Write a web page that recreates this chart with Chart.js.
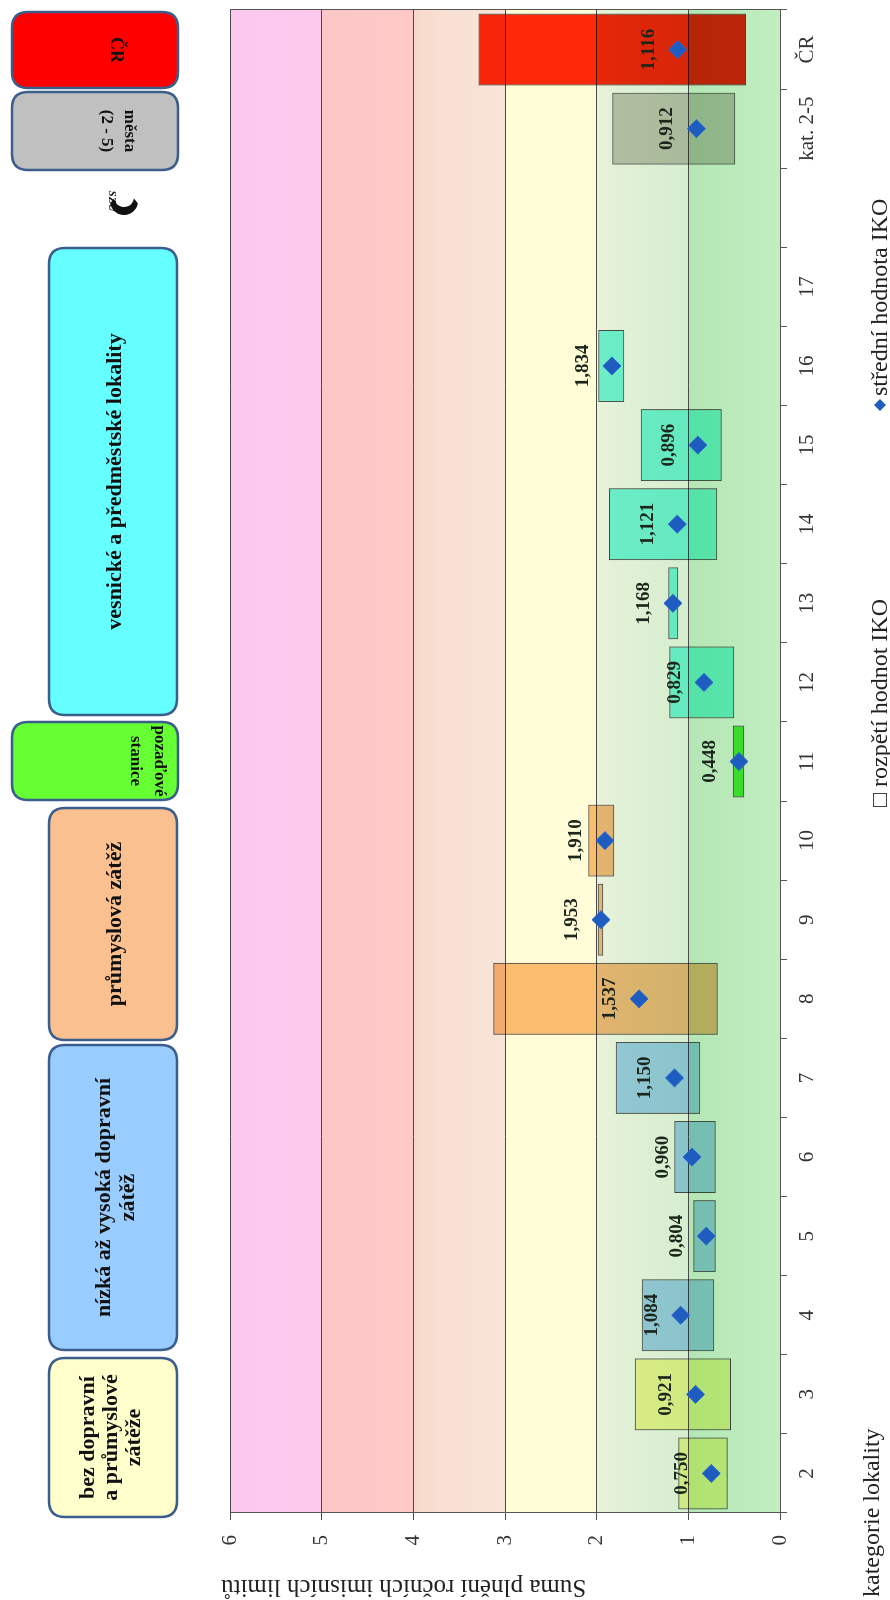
<!DOCTYPE html>
<html><head><meta charset="utf-8">
<script src="https://cdn.jsdelivr.net/npm/chart.js@4.4.1/dist/chart.umd.min.js"></script>
<style>
html,body{margin:0;padding:0;background:#fff;}
body{width:890px;height:1600px;overflow:hidden;position:relative;}
#wrap{position:absolute;left:0;top:0;width:1600px;height:890px;transform-origin:0 0;transform:translateY(1600px) rotate(-90deg);background:#fff;}
canvas{display:block;}
</style></head><body>
<div id="wrap"><canvas id="c" width="1600" height="890"></canvas></div>
<script>
// ---- data ----
const categories = ['2','3','4','5','6','7','8','9','10','11','12','13','14','15','16','17','','kat. 2-5','ČR'];
const rangeMin  = [0.571,0.535,0.717,0.700,0.700,0.869,0.680,1.927,1.807,0.389,0.498,1.109,0.684,0.636,1.698,null,null,0.488,0.371];
const rangeMax  = [1.110,1.585,1.509,0.946,1.153,1.792,3.128,1.989,2.091,0.516,1.208,1.218,1.865,1.520,1.982,null,null,1.829,3.290];
const meanValues= [0.750,0.921,1.084,0.804,0.960,1.150,1.537,1.953,1.910,0.448,0.829,1.168,1.121,0.896,1.834,null,null,0.912,1.116];
const valueTicks = [0,1,2,3,4,5,6];
const seriesNames = ['rozpětí hodnot IKO','střední hodnota IKO'];
const axisTitleY = 'Suma plnění ročních imisních limitů';
const axisTitleX = 'kategorie lokality';
const groupLabels = [
  ['bez dopravní','a průmyslové','zátěže'],
  ['nízká až vysoká dopravní','zátěž'],
  ['průmyslová zátěž'],
  ['pozaďové','stanice'],
  ['vesnické a předměstské lokality'],
  ['města','(2 - 5)'],
  ['ČR']
];

// ---- styles ----
const FONT = '"Liberation Serif", "Times New Roman", serif';
const barColors = ['#f8faa0','#f8faa0','#a5d2fa','#a5d2fa','#a5d2fa','#a5d2fa','#fabe82','#fabe82','#fabe82','#50f03c','#78faeb','#78faeb','#78faeb','#78faeb','#78faeb','#ffffff','#ffffff','#c8c8be','#ff280a'];
const bandStyles = [
  {from:0,to:1,stops:[[0,'#c2eec2'],[1,'#b4e6b4']]},
  {from:1,to:2,stops:[[0,'#d6eecf'],[0.8,'#e2f1d7'],[1,'#ebf2da']]},
  {from:2,to:3,stops:[[0,'#fffcd8'],[1,'#fffcd6']]},
  {from:3,to:4,stops:[[0,'#f8e4d8'],[0.7,'#f8e0d2'],[1,'#f6d8c8']]},
  {from:4,to:5,stops:[[0,'#fdc9c7'],[1,'#fdc6c6']]},
  {from:5,to:6,stops:[[0,'#fdcaee'],[1,'#fcc8ee']]}
];
const boxLayout = [
  {x0:83,x1:242,y0:49,y1:177,fill:'#ffffcc',ys:[88,111,134],flip:false,size:22},
  {x0:250,x1:555,y0:49,y1:177,fill:'#99ccff',ys:[104,128],flip:false,size:22},
  {x0:560,x1:792,y0:49,y1:177,fill:'#fac090',ys:[115],flip:false,size:22},
  {x0:800,x1:878,y0:12,y1:178,fill:'#66ff33',ys:[159,135],flip:true,size:17},
  {x0:885,x1:1352,y0:49,y1:177,fill:'#66ffff',ys:[115],flip:false,size:22},
  {x0:1430,x1:1508,y0:12,y1:178,fill:'#c0c0c0',ys:[129,106],flip:true,size:17},
  {x0:1512,x1:1588,y0:12,y1:178,fill:'#ff0000',ys:[116],flip:true,size:18}
];
const fmt = v => v.toFixed(3).replace('.', ',');

function roundRect(ctx,x,y,w,h,r){
  ctx.beginPath();
  ctx.moveTo(x+r,y);ctx.lineTo(x+w-r,y);ctx.quadraticCurveTo(x+w,y,x+w,y+r);
  ctx.lineTo(x+w,y+h-r);ctx.quadraticCurveTo(x+w,y+h,x+w-r,y+h);
  ctx.lineTo(x+r,y+h);ctx.quadraticCurveTo(x,y+h,x,y+h-r);
  ctx.lineTo(x,y+r);ctx.quadraticCurveTo(x,y,x+r,y);ctx.closePath();
}

const bandsPlugin = {
  id:'bands',
  beforeDraw(chart){
    const {ctx, chartArea:a, scales:{y}} = chart;
    ctx.save();
    bandStyles.forEach(b=>{
      const p0=y.getPixelForValue(b.from), p1=y.getPixelForValue(b.to);
      const g=ctx.createLinearGradient(0,p0,0,p1);
      b.stops.forEach(s=>g.addColorStop(s[0],s[1]));
      ctx.fillStyle=g;
      ctx.fillRect(a.left,p1,a.right-a.left,p0-p1);
    });
    ctx.restore();
  }
};
const multiplyPlugin = {
  id:'multiply',
  beforeDatasetDraw(chart,args){ if(args.index===0){chart.ctx.save();chart.ctx.globalCompositeOperation='multiply';} },
  afterDatasetDraw(chart,args){ if(args.index===0){chart.ctx.restore();} }
};
const labelsPlugin = {
  id:'vlabels',
  afterDatasetsDraw(chart){
    const {ctx, scales:{x,y}} = chart;
    ctx.save();
    ctx.font='bold 19px '+FONT; ctx.fillStyle='#1c261c'; ctx.textAlign='center'; ctx.textBaseline='middle';
    meanValues.forEach((v,i)=>{ if(v==null) return; ctx.fillText(fmt(v), x.getPixelForValue(i), y.getPixelForValue(v)-29); });
    ctx.restore();
  }
};
const decorPlugin = {
  id:'decor',
  afterDraw(chart){
    const {ctx, chartArea:a} = chart;
    ctx.save();
    // right frame line
    ctx.strokeStyle='#555'; ctx.lineWidth=1;
    ctx.beginPath(); ctx.moveTo(a.right+0.5,a.top); ctx.lineTo(a.right+0.5,a.bottom); ctx.stroke();
    // group boxes
    boxLayout.forEach((b,i)=>{
      roundRect(ctx,b.x0,b.y0,b.x1-b.x0,b.y1-b.y0,16);
      ctx.fillStyle=b.fill; ctx.fill();
      ctx.lineWidth=2.5; ctx.strokeStyle='#3b5e8c'; ctx.stroke();
      ctx.fillStyle='#111'; ctx.font='bold '+b.size+'px '+FONT; ctx.textAlign='center'; ctx.textBaseline='middle';
      const cx=(b.x0+b.x1)/2;
      groupLabels[i].forEach((t,k)=>{
        ctx.save(); ctx.translate(cx,b.ys[k]); if(b.flip) ctx.rotate(Math.PI);
        ctx.fillText(t,0,0); ctx.restore();
      });
    });
    // small SZU logo
    ctx.save();
    ctx.translate(1395,118);
    ctx.fillStyle='#111';
    ctx.beginPath(); ctx.arc(4,6,14,Math.PI*0.55,Math.PI*1.45); ctx.arc(8,6,10,Math.PI*1.45,Math.PI*0.55,true); ctx.closePath(); ctx.fill();
    ctx.font='bold italic 11px '+FONT; ctx.textAlign='center'; ctx.textBaseline='middle';
    ctx.rotate(Math.PI); ctx.fillText('SZÚ',-4,6);
    ctx.restore();
    // y-axis title
    ctx.save();
    ctx.translate(13,221); ctx.rotate(-Math.PI/2);
    ctx.fillStyle='#222'; ctx.font='25px '+FONT; ctx.textAlign='right'; ctx.textBaseline='middle';
    ctx.fillText(axisTitleY,0,0);
    ctx.restore();
    // x-axis title
    ctx.fillStyle='#222'; ctx.font='24px '+FONT; ctx.textAlign='left'; ctx.textBaseline='alphabetic';
    ctx.fillText(axisTitleX,3,879);
    // legend
    ctx.strokeStyle='#444'; ctx.lineWidth=1; ctx.fillStyle='#fff';
    ctx.fillRect(793.5,873.5,13,13); ctx.strokeRect(793.5,873.5,13,13);
    ctx.fillStyle='#222'; ctx.font='24px '+FONT;
    ctx.fillText(seriesNames[0],813,887);
    ctx.fillStyle='#1f5cbf';
    ctx.beginPath(); ctx.moveTo(1189,880); ctx.lineTo(1195,874); ctx.lineTo(1201,880); ctx.lineTo(1195,886); ctx.closePath(); ctx.fill();
    ctx.fillStyle='#222';
    ctx.fillText(seriesNames[1],1204,887);
    ctx.restore();
  }
};

new Chart(document.getElementById('c'), {
  type:'bar',
  data:{
    labels:categories,
    datasets:[
      {type:'bar', label:seriesNames[0], data:categories.map((c,i)=>rangeMin[i]==null?null:[rangeMin[i],rangeMax[i]]),
       backgroundColor:barColors, borderColor:'#4d4d4d', borderWidth:1, borderSkipped:false,
       barPercentage:0.91, categoryPercentage:1.0, order:1},
      {type:'line', label:seriesNames[1], data:meanValues, showLine:false, pointStyle:'rectRot',
       pointRadius:9, pointHoverRadius:9, pointBackgroundColor:'#1f5cbf', pointBorderColor:'#2a68cc', pointBorderWidth:1, order:0}
    ]
  },
  options:{
    responsive:false, animation:false, devicePixelRatio:1,
    layout:{padding:{top:230,right:10,bottom:0,left:0}},
    plugins:{legend:{display:false}, tooltip:{enabled:false}},
    scales:{
      x:{type:'category', offset:true,
         grid:{display:true, drawOnChartArea:false, drawTicks:true, tickLength:7, color:'#555', offset:true},
         border:{display:true, color:'#555'},
         ticks:{font:{family:FONT,size:21}, color:'#333', padding:8, maxRotation:0, autoSkip:false},
         afterFit(s){s.height=110;}},
      y:{min:0, max:6,
         afterBuildTicks(s){ s.ticks = valueTicks.map(v=>({value:v})); },
         ticks:{font:{family:FONT,size:21}, color:'#333', padding:15},
         grid:{color:'#4a4a4a', tickLength:7, lineWidth:1},
         border:{display:true, color:'#555'},
         afterFit(s){s.width=87;}}
    }
  },
  plugins:[bandsPlugin, multiplyPlugin, labelsPlugin, decorPlugin]
});
</script>
</body></html>
